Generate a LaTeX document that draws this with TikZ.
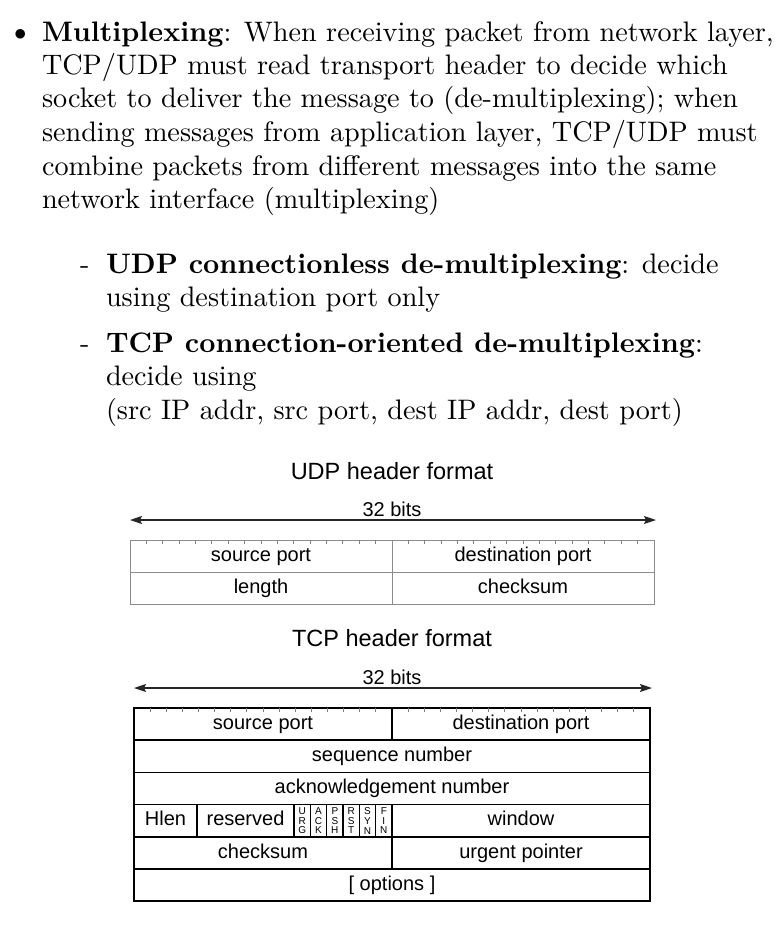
\documentclass[tikz,border=0pt]{standalone}
\usepackage{fontspec}
\setmainfont{lmroman10}[
  Extension=.otf,
  UprightFont=*-regular,
  BoldFont=*-bold,
  ItalicFont=*-italic,
  BoldItalicFont=*-bolditalic]
\newfontfamily\hdrfont{Liberation Sans}
\usetikzlibrary{arrows.meta}
\usetikzlibrary{positioning}
\tikzset{
    every node/.style={inner sep=0pt, outer sep=0pt},
    para/.style={
        anchor=base west,
        align=left,
        font=\fontsize{28.2}{33.5}\selectfont
    },
    bitsarrow/.style={
        draw=black!85,
        line width=1.4pt,
        {Stealth[length=12pt, width=8pt, inset=2pt]}-{Stealth[length=12pt, width=8pt, inset=2pt]}
    }
}

\begin{document}
\begin{tikzpicture}[x=1pt, y=-1pt]
  % Define styles for the two header tables
  \tikzset{
    title/.style={
      font=\hdrfont\fontsize{23.5}{26}\selectfont
    },
    hlabel/.style={
      font=\hdrfont\fontsize{20}{24}\selectfont
    },
    udpcell/.style={
      draw=black!45,
      line width=1pt,
      minimum height=32pt,
      text height=14pt,
      text depth=3.6pt,
      font=\hdrfont\fontsize{20}{24}\selectfont
    },
    tcpcell/.style={
      draw=black,
      line width=1.6pt,
      minimum height=32.2pt,
      text height=14pt,
      text depth=3.6pt,
      font=\hdrfont\fontsize{20}{24}\selectfont
    },
    flagcell/.style={
      tcpcell,
      minimum width=16.333pt,
      align=center,
      text height=,
      text depth=,
      font=\hdrfont\fontsize{10}{9.8}\selectfont
    },
    tick/.style={
      draw=black!50,
      line width=0.8pt
    }
  }
  \useasboundingbox (0,0) rectangle (782,928);

  % Bullet text (anchored at the baseline of the last line)
  \node[para] (bul) at (14,41) {$\bullet$};
  \node[para] (mux) at (42,208.5) {\textbf{Multiplexing}: When receiving packet from network layer,\\
    TCP/UDP must read transport header to decide which\\
    socket to deliver the message to (de-multiplexing); when\\
    sending messages from application layer, TCP/UDP must\\
    combine packets from different messages into the same\\
    network interface (multiplexing)};
  \node[para] (dash1) at (80,273) {-};
  \node[para] (udpmux) at (106,306.5) {\textbf{UDP connectionless de-multiplexing}: decide\\
    using destination port only};
  \node[para] (dash2) at (80,352) {-};
  \node[para] (tcpmux) at (106,419) {\textbf{TCP connection-oriented de-multiplexing}:\\
    decide using\\
    (src IP addr, src port, dest IP addr, dest port)};

  % UDP header
  \node[title] (utitle) at (392,471) {UDP header format};
  \node[hlabel] (ubits) at (392,509) {32 bits};
  \coordinate (ul) at (130,520);
  \coordinate (ur) at (656,520);
  \draw[bitsarrow] (ul) -- (ur);
  \node[udpcell, minimum width=262pt, anchor=north west] (usrc) at (130,540) {source port};
  \node[udpcell, minimum width=262pt, right=0pt of usrc] (udst) {destination port};
  \node[udpcell, minimum width=262pt, below=0pt of usrc] (ulen) {length};
  \node[udpcell, minimum width=262pt, right=0pt of ulen] (usum) {checksum};
  \foreach \i in {1,...,31} {
    \ifnum\i=16\else
      \draw[tick] (130+\i*16.375,540) -- ++(0,4);
    \fi
  }

  % TCP header
  \node[title] (ttitle) at (392,638) {TCP header format};
  \node[hlabel] (tbits) at (392,677) {32 bits};
  \coordinate (tl) at (134,688);
  \coordinate (tr) at (652,688);
  \draw[bitsarrow] (tl) -- (tr);
  \node[tcpcell, minimum width=258pt, anchor=north west] (tsrc) at (134,708) {source port};
  \node[tcpcell, minimum width=258pt, right=0pt of tsrc] (tdst) {destination port};
  \node[tcpcell, minimum width=516pt, below right=0pt of tsrc.south west] (tseq) {sequence number};
  \node[tcpcell, minimum width=516pt, below right=0pt of tseq.south west] (tack) {acknowledgement number};
  \node[tcpcell, minimum width=63pt, below right=0pt of tack.south west] (thlen) {Hlen};
  \node[tcpcell, minimum width=97pt, right=0pt of thlen] (tres) {reserved};
  \foreach \f/\txt [remember=\f as \prev (initially res)] in
      {URG/U\\R\\G, ACK/A\\C\\K, PSH/P\\S\\H, RST/R\\S\\T, SYN/S\\Y\\N, FIN/F\\I\\N} {
    \node[flagcell, right=0pt of t\prev] (t\f) {\txt};
  }
  \node[tcpcell, minimum width=258pt, right=0pt of tFIN] (twin) {window};
  \node[tcpcell, minimum width=258pt, below right=0pt of thlen.south west] (tsum) {checksum};
  \node[tcpcell, minimum width=258pt, right=0pt of tsum] (turg) {urgent pointer};
  \node[tcpcell, minimum width=516pt, below right=0pt of tsum.south west] (topt) {[ options ]};
  \foreach \i in {1,...,31} {
    \ifnum\i=16\else
      \draw[tick] (134+\i*16.125,708) -- ++(0,4);
    \fi
  }
\end{tikzpicture}
\end{document}
